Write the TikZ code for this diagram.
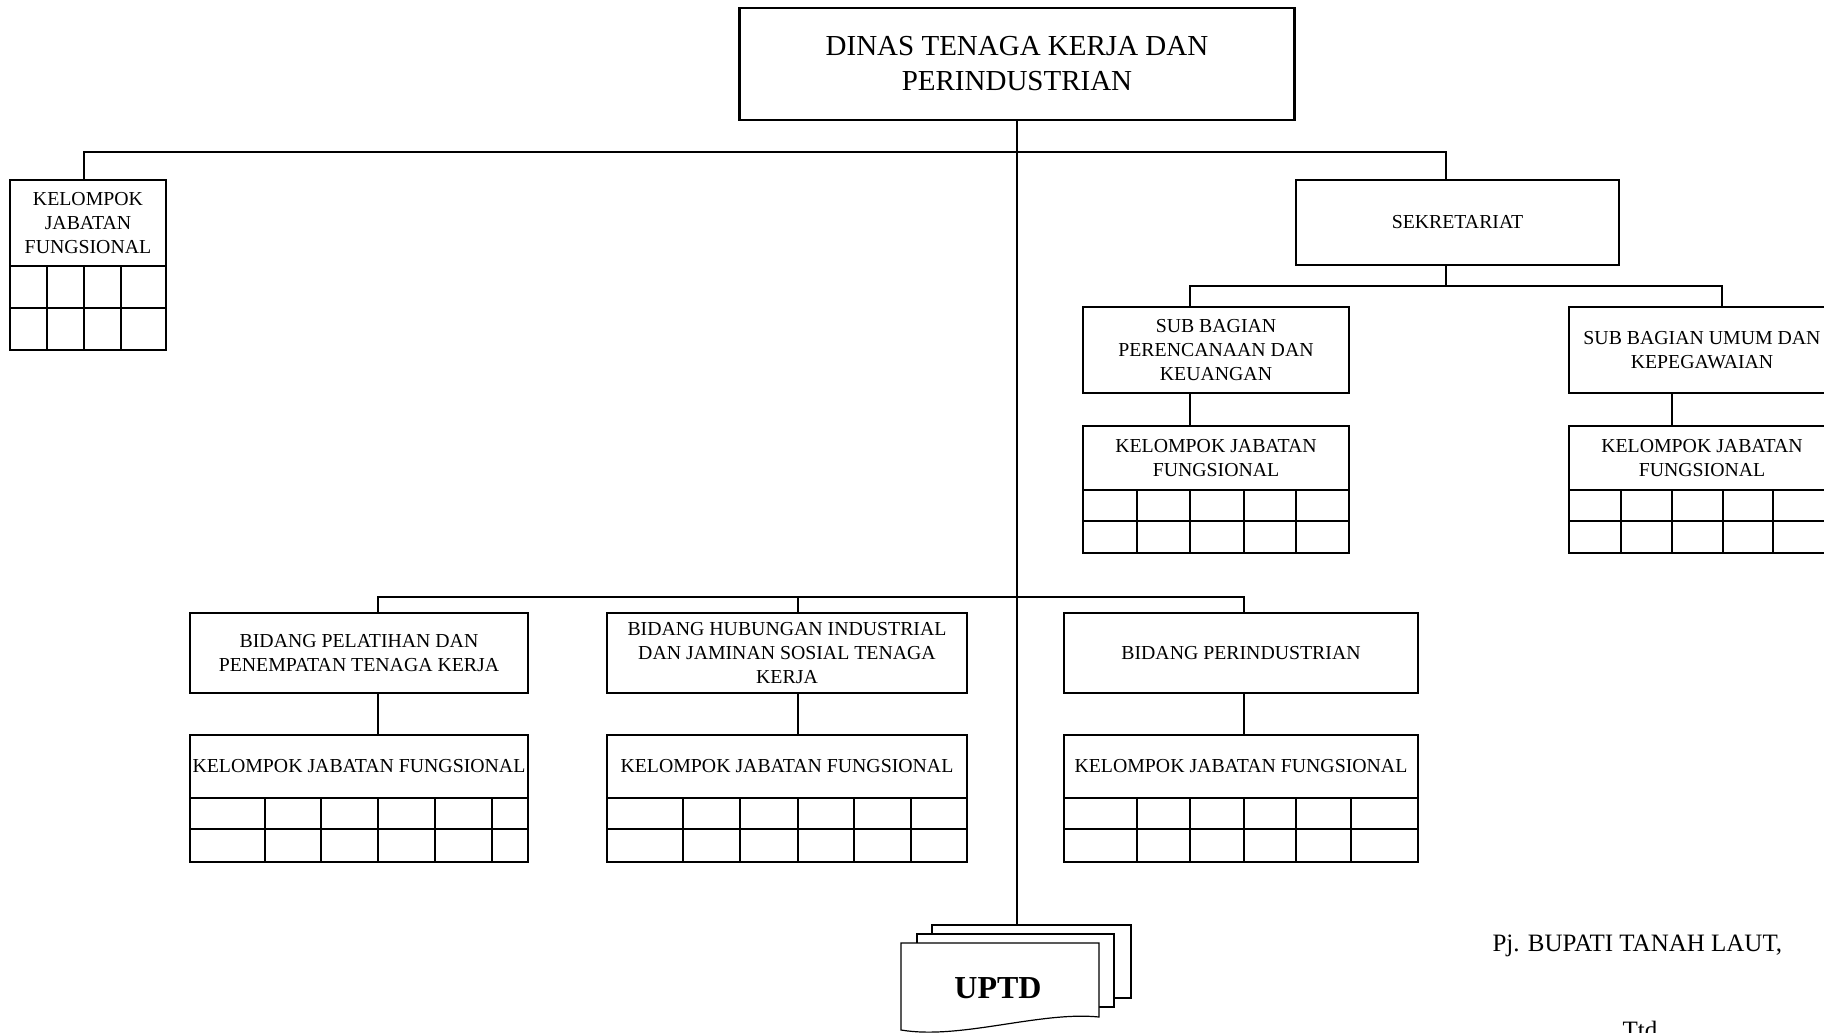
\documentclass[tikz,border=0pt]{standalone}
\usepackage{fontspec}
\setmainfont{Liberation Serif}

\begin{document}
\begin{tikzpicture}[x=1pt, y=1pt,
  box/.style = {draw, line width=2.6pt, align=center, inner sep=0pt, outer sep=0pt, font=\fontsize{19.8}{24.4}\selectfont},
  grid/.style = {line width=2.6pt},
  conn/.style = {line width=2.2pt},
  page/.style = {line width=1.2pt}]
\useasboundingbox (0,0) rectangle (1824,-1033);

% kepala dinas
\node[box, minimum width=555, minimum height=112, font=\fontsize{29}{35}\selectfont] (dinas) at (1017,-64) {DINAS TENAGA KERJA DAN\\PERINDUSTRIAN};

% kelompok jabatan fungsional kiri
\node[box, minimum width=156, minimum height=86] (kjf0) at (88,-223) {KELOMPOK\\JABATAN\\FUNGSIONAL};
\draw[grid] (kjf0.south west) rectangle (166,-350);
\draw[grid] (10,-308) -- (166,-308);
\foreach \c in {47,84,121} \draw[grid] (\c,-266) -- (\c,-350);

% sekretariat
\node[box, minimum width=323, minimum height=85] (sekre) at (1457.5,-222.5) {SEKRETARIAT};
\node[box, minimum width=266, minimum height=86] (subpk) at (1216,-350) {SUB BAGIAN\\PERENCANAAN DAN\\KEUANGAN};
\node[box, minimum width=266, minimum height=86] (subum) at (1702,-350) {SUB BAGIAN UMUM DAN\\KEPEGAWAIAN};
\node[box, minimum width=266, minimum height=64] (kjf1) at (1216,-458) {KELOMPOK JABATAN\\FUNGSIONAL};
\node[box, minimum width=266, minimum height=64] (kjf2) at (1702,-458) {KELOMPOK JABATAN\\FUNGSIONAL};
\draw[grid] (kjf1.south west) rectangle (1349,-553);
\draw[grid] (1083,-521) -- (1349,-521);
\foreach \c in {1137,1190,1244,1296} \draw[grid] (\c,-490) -- (\c,-553);
\draw[grid] (kjf2.south west) rectangle (1835,-553);
\draw[grid] (1569,-521) -- (1835,-521);
\foreach \c in {1621,1672,1723,1773} \draw[grid] (\c,-490) -- (\c,-553);

% bidang
\node[box, minimum width=338, minimum height=80] (bidpp) at (359,-653) {BIDANG PELATIHAN DAN\\PENEMPATAN TENAGA KERJA};
\node[box, minimum width=360, minimum height=80] (bidhi) at (787,-653) {BIDANG HUBUNGAN INDUSTRIAL\\DAN JAMINAN SOSIAL TENAGA\\KERJA};
\node[box, minimum width=354, minimum height=80] (bidpr) at (1241,-653) {BIDANG PERINDUSTRIAN};
\node[box, minimum width=338, minimum height=63] (kjf3) at (359,-766.5) {KELOMPOK JABATAN FUNGSIONAL};
\node[box, minimum width=360, minimum height=63] (kjf4) at (787,-766.5) {KELOMPOK JABATAN FUNGSIONAL};
\node[box, minimum width=354, minimum height=63] (kjf5) at (1241,-766.5) {KELOMPOK JABATAN FUNGSIONAL};
\draw[grid] (kjf3.south west) rectangle (528,-862);
\draw[grid] (190,-829) -- (528,-829);
\foreach \c in {265,321,378,435,492} \draw[grid] (\c,-798) -- (\c,-862);
\draw[grid] (kjf4.south west) rectangle (967,-862);
\draw[grid] (607,-829) -- (967,-829);
\foreach \c in {683,740,798,854,911} \draw[grid] (\c,-798) -- (\c,-862);
\draw[grid] (kjf5.south west) rectangle (1418,-862);
\draw[grid] (1064,-829) -- (1418,-829);
\foreach \c in {1137,1190,1244,1296,1351} \draw[grid] (\c,-798) -- (\c,-862);

% UPTD
\coordinate (uptdtop) at (1017,-925);
\draw[page] (932,-934) |- (1131,-925) |- (1114,-998);
\draw[page] (917,-943) |- (1114,-934) |- (1099,-1007);
\draw[page, fill=white] (901,-1030) |- (1099,-943) -- (1099,-1017) .. controls (1040,-1011) and (960,-1040) .. cycle;
\node[font=\fontsize{32}{38}\selectfont\bfseries] (uptd) at (998,-988) {UPTD};

% garis
\draw[conn] (dinas.south) -- (uptdtop);
\draw[conn] ([xshift=-4pt]kjf0.north) -- ++(0,28) -| ([xshift=-11.5pt]sekre.north);
\draw[conn] ([xshift=-11.5pt]sekre.south) -- ++(0,-21);
\draw[conn] ([xshift=-26pt]subpk.north) -- ++(0,21) -| ([xshift=20pt]subum.north);
\draw[conn] ([xshift=-26pt]subpk.south) -- ([xshift=-26pt]kjf1.north);
\draw[conn] ([xshift=-30pt]subum.south) -- ([xshift=-30pt]kjf2.north);
\draw[conn] ([xshift=19pt]bidpp.north) -- ++(0,16) -| ([xshift=3pt]bidpr.north);
\draw[conn] ([xshift=11pt]bidhi.north) -- ++(0,16);
\draw[conn] ([xshift=19pt]bidpp.south) -- ([xshift=19pt]kjf3.north);
\draw[conn] ([xshift=11pt]bidhi.south) -- ([xshift=11pt]kjf4.north);
\draw[conn] ([xshift=3pt]bidpr.south) -- ([xshift=3pt]kjf5.north);

\node[anchor=west, font=\fontsize{25}{30}\selectfont] (bupati) at (1489,-946) {Pj. BUPATI TANAH LAUT,};
\node[anchor=base, font=\fontsize{25}{30}\selectfont] (ttd) at (1640,-1038) {Ttd};
\end{tikzpicture}
\end{document}
